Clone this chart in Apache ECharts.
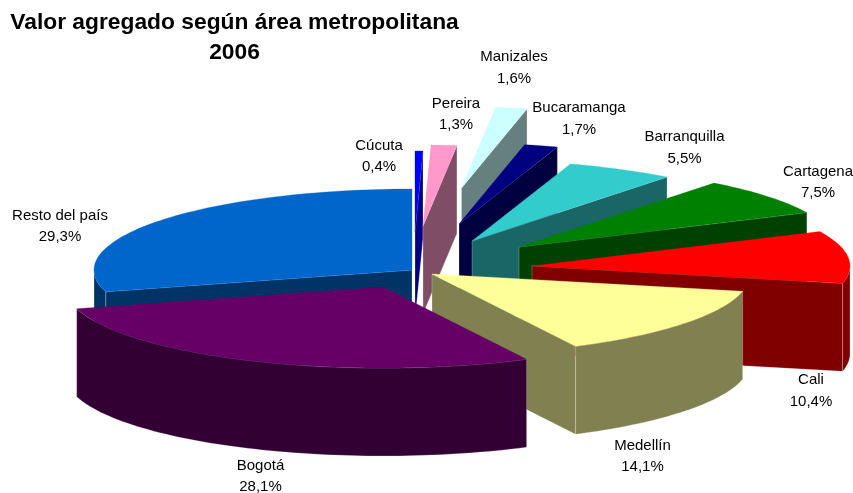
<!DOCTYPE html>
<html><head><meta charset="utf-8">
<style>html,body{margin:0;padding:0;background:#fff}#c{width:853px;height:493px}</style>
<script src="https://cdn.jsdelivr.net/npm/echarts@6/dist/echarts.min.js"></script>
</head><body><div id="c"></div>
<script>
// Data (clockwise; the first slice ends at 12 o'clock)
const categories = ['Resto del país','Cúcuta','Pereira','Manizales','Bucaramanga','Barranquilla','Cartagena','Cali','Medellín','Bogotá'];
const values = [29.3,0.4,1.3,1.6,1.7,5.5,7.5,10.4,14.1,28.1];
const titleText = 'Valor agregado según área metropolitana\n2006';

// Style
const topColors  = ['#0066CC','#0000FF','#FF99CC','#CCFFFF','#000080','#33CCCC','#008000','#FF0000','#FFFF99','#660066'];
const sideColors = ['#003366','#000080','#804D66','#668080','#000040','#1A6666','#004000','#800000','#808050','#330033'];

// Layout: projected ellipse, thickness, exploded slice apexes, label anchors
const rx = 318, ry = 81, depth = 88;
const apexX = [412,415,423,461.5,459,472,519,532,432,383];
const apexY = [270,232,226,188,224,241,247,266,274,287];
const labelX = [60,379,456,514,579,684.5,818,811,642.5,260.5];
const labelY = [226.5,156.5,114.5,68,119,148,182.5,391,456.5,476.5];

const total = values.reduce((a, b) => a + b, 0);
const startAngles = [];
values.reduce((acc, v, i) => { startAngles[i] = acc; return acc + v / total * 360; }, -values[0] / total * 360);

function pt(cx, cy, deg, dz) {
  const t = deg * Math.PI / 180;
  return [cx + rx * Math.sin(t), cy - ry * Math.cos(t) + (dz || 0)];
}
function arc(cx, cy, a, b, dz) {
  const n = Math.max(2, Math.ceil(Math.abs(b - a) / 1.5));
  const out = [];
  for (let i = 0; i <= n; i++) out.push(pt(cx, cy, a + (b - a) * i / n, dz));
  return out;
}
function renderItem(params, api) {
  const i = params.dataIndex;
  const v = api.value(0);
  const a = startAngles[i], b = a + v / total * 360;
  const cx = apexX[i], cy = apexY[i];
  const px = p => api.coord(p);
  const children = [];
  const poly = (pts, fill, stroke) => children.push({
    type: 'polygon', shape: { points: pts.map(px) },
    style: { fill: fill, stroke: stroke || fill, lineWidth: stroke ? 0.6 : 0.3 }
  });
  const edge = 'rgba(255,255,255,0.4)';
  // cut faces that turn towards the viewer
  const sa = Math.sin(a * Math.PI / 180), sb = Math.sin(b * Math.PI / 180);
  if (sa < -1e-6) { const p = pt(cx, cy, a); poly([[cx, cy], p, [p[0], p[1] + depth], [cx, cy + depth]], sideColors[i], edge); }
  if (sb > 1e-6)  { const p = pt(cx, cy, b); poly([[cx, cy], p, [p[0], p[1] + depth], [cx, cy + depth]], sideColors[i], edge); }
  // outer wall: only the front half of the rim
  [[90, 270], [-270, -90]].forEach(r => {
    const lo = Math.max(a, r[0]), hi = Math.min(b, r[1]);
    if (hi > lo) {
      poly(arc(cx, cy, lo, hi, 0).concat(arc(cx, cy, hi, lo, depth)), sideColors[i], edge);
    }
  });
  // top face
  poly([[cx, cy]].concat(arc(cx, cy, a, b, 0)), topColors[i]);
  // label
  const txt = { fontFamily: '"Liberation Sans", Arial, sans-serif', fontSize: 15, fill: '#000', align: 'center', verticalAlign: 'middle' };
  const lp = px([labelX[i], labelY[i] - 10.75]);
  const lv = px([labelX[i], labelY[i] + 10.75]);
  children.push({ type: 'text', z2: 100, style: Object.assign({ text: categories[i], x: lp[0], y: lp[1] }, txt) });
  children.push({ type: 'text', z2: 100, style: Object.assign({ text: v.toFixed(1).replace('.', ',') + '%', x: lv[0], y: lv[1] }, txt) });
  return { type: 'group', children: children };
}
const chart = echarts.init(document.getElementById('c'), null, { renderer: 'canvas' });
chart.setOption({
  animation: false,
  backgroundColor: '#fff',
  title: {
    text: titleText, left: 229.5, top: 3, textAlign: 'center',
    textStyle: { fontFamily: '"Liberation Sans", Arial, sans-serif', fontSize: 22.8, fontWeight: 'bold', color: '#000', lineHeight: 30 }
  },
  grid: { left: 0, right: 0, top: 0, bottom: 0 },
  xAxis: { type: 'value', min: 0, max: 853, show: false },
  yAxis: { type: 'value', min: 0, max: 493, inverse: true, show: false },
  series: [{
    type: 'custom', coordinateSystem: 'cartesian2d', clip: false,
    renderItem: renderItem,
    encode: { x: 0, y: 0 },
    data: values.map(v => [v])
  }]
});
</script></body></html>
